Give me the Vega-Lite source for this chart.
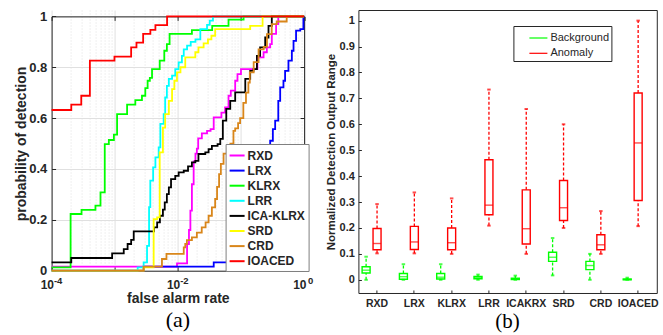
{
  "$schema": "https://vega.github.io/schema/vega-lite/v6.json",
  "background": "white",
  "padding": {"left": 14.6, "top": 9, "right": 0, "bottom": 0},
  "spacing": 10.8,
  "config": {"font": "Liberation Sans", "view": {"stroke": null}},
  "resolve": {"scale": {"color": "independent", "x": "independent", "y": "independent"}, "legend": {"color": "independent"}},
  "datasets": {
    "roc": [
      {"m":"RXD","far":0.0001,"pd":0.016},{"m":"RXD","far":0.0097,"pd":0.029},{"m":"RXD","far":0.014,"pd":0.105},{"m":"RXD","far":0.015,"pd":0.16},{"m":"RXD","far":0.0158,"pd":0.236},{"m":"RXD","far":0.0167,"pd":0.34},{"m":"RXD","far":0.0178,"pd":0.43},{"m":"RXD","far":0.019,"pd":0.46},{"m":"RXD","far":0.02,"pd":0.48},{"m":"RXD","far":0.021,"pd":0.52},{"m":"RXD","far":0.024,"pd":0.54},{"m":"RXD","far":0.029,"pd":0.55},{"m":"RXD","far":0.033,"pd":0.557},{"m":"RXD","far":0.037,"pd":0.603},{"m":"RXD","far":0.049,"pd":0.622},{"m":"RXD","far":0.056,"pd":0.642},{"m":"RXD","far":0.0635,"pd":0.688},{"m":"RXD","far":0.069,"pd":0.708},{"m":"RXD","far":0.081,"pd":0.747},{"m":"RXD","far":0.088,"pd":0.773},{"m":"RXD","far":0.1,"pd":0.793},{"m":"RXD","far":0.182,"pd":0.839},{"m":"RXD","far":0.228,"pd":0.859},{"m":"RXD","far":0.257,"pd":0.878},{"m":"RXD","far":0.29,"pd":0.891},{"m":"RXD","far":0.308,"pd":0.931},{"m":"RXD","far":0.36,"pd":0.97},{"m":"RXD","far":0.39,"pd":1.0},{"m":"RXD","far":1,"pd":1.0},
      {"m":"LRX","far":0.0001,"pd":0},{"m":"LRX","far":0.00287,"pd":0.016},{"m":"LRX","far":0.037,"pd":0.033},{"m":"LRX","far":0.1,"pd":0.05},{"m":"LRX","far":0.15,"pd":0.1},{"m":"LRX","far":0.2,"pd":0.2},{"m":"LRX","far":0.25,"pd":0.35},{"m":"LRX","far":0.29,"pd":0.511},{"m":"LRX","far":0.32,"pd":0.557},{"m":"LRX","far":0.348,"pd":0.59},{"m":"LRX","far":0.39,"pd":0.668},{"m":"LRX","far":0.418,"pd":0.721},{"m":"LRX","far":0.471,"pd":0.747},{"m":"LRX","far":0.5,"pd":0.786},{"m":"LRX","far":0.565,"pd":0.826},{"m":"LRX","far":0.64,"pd":0.865},{"m":"LRX","far":0.68,"pd":0.904},{"m":"LRX","far":0.746,"pd":0.944},{"m":"LRX","far":0.87,"pd":0.95},{"m":"LRX","far":0.975,"pd":1.0},{"m":"LRX","far":1,"pd":1.0},
      {"m":"KLRX","far":0.0001,"pd":0.013},{"m":"KLRX","far":0.0002,"pd":0.223},{"m":"KLRX","far":0.000298,"pd":0.239},{"m":"KLRX","far":0.000495,"pd":0.256},{"m":"KLRX","far":0.000595,"pd":0.308},{"m":"KLRX","far":0.000695,"pd":0.498},{"m":"KLRX","far":0.000807,"pd":0.514},{"m":"KLRX","far":0.00097,"pd":0.535},{"m":"KLRX","far":0.00109,"pd":0.616},{"m":"KLRX","far":0.00157,"pd":0.653},{"m":"KLRX","far":0.00212,"pd":0.671},{"m":"KLRX","far":0.0027,"pd":0.688},{"m":"KLRX","far":0.00305,"pd":0.718},{"m":"KLRX","far":0.00332,"pd":0.747},{"m":"KLRX","far":0.0036,"pd":0.758},{"m":"KLRX","far":0.0039,"pd":0.793},{"m":"KLRX","far":0.00516,"pd":0.826},{"m":"KLRX","far":0.0061,"pd":0.865},{"m":"KLRX","far":0.0067,"pd":0.891},{"m":"KLRX","far":0.0074,"pd":0.931},{"m":"KLRX","far":0.0167,"pd":0.946},{"m":"KLRX","far":0.035,"pd":0.963},{"m":"KLRX","far":0.0635,"pd":0.987},{"m":"KLRX","far":0.11,"pd":1.0},{"m":"KLRX","far":1,"pd":1.0},
      {"m":"LRR","far":0.0001,"pd":0},{"m":"LRR","far":0.00231,"pd":0.013},{"m":"LRR","far":0.00287,"pd":0.033},{"m":"LRR","far":0.00325,"pd":0.098},{"m":"LRR","far":0.0035,"pd":0.25},{"m":"LRR","far":0.00366,"pd":0.354},{"m":"LRR","far":0.00406,"pd":0.406},{"m":"LRR","far":0.00441,"pd":0.446},{"m":"LRR","far":0.00497,"pd":0.485},{"m":"LRR","far":0.00528,"pd":0.577},{"m":"LRR","far":0.00596,"pd":0.616},{"m":"LRR","far":0.0063,"pd":0.681},{"m":"LRR","far":0.0067,"pd":0.727},{"m":"LRR","far":0.0072,"pd":0.754},{"m":"LRR","far":0.0081,"pd":0.767},{"m":"LRR","far":0.0091,"pd":0.793},{"m":"LRR","far":0.0103,"pd":0.819},{"m":"LRR","far":0.0116,"pd":0.845},{"m":"LRR","far":0.0124,"pd":0.87},{"m":"LRR","far":0.014,"pd":0.885},{"m":"LRR","far":0.016,"pd":0.9},{"m":"LRR","far":0.019,"pd":0.91},{"m":"LRR","far":0.0227,"pd":0.95},{"m":"LRR","far":0.029,"pd":0.967},{"m":"LRR","far":0.032,"pd":0.983},{"m":"LRR","far":0.036,"pd":1.0},{"m":"LRR","far":1,"pd":1.0},
      {"m":"ICA-KLRX","far":0.0001,"pd":0.033},{"m":"ICA-KLRX","far":0.000205,"pd":0.05},{"m":"ICA-KLRX","far":0.00091,"pd":0.068},{"m":"ICA-KLRX","far":0.00139,"pd":0.085},{"m":"ICA-KLRX","far":0.0016,"pd":0.105},{"m":"ICA-KLRX","far":0.00182,"pd":0.121},{"m":"ICA-KLRX","far":0.002,"pd":0.155},{"m":"ICA-KLRX","far":0.0042,"pd":0.17},{"m":"ICA-KLRX","far":0.0047,"pd":0.19},{"m":"ICA-KLRX","far":0.0052,"pd":0.216},{"m":"ICA-KLRX","far":0.0058,"pd":0.24},{"m":"ICA-KLRX","far":0.0062,"pd":0.269},{"m":"ICA-KLRX","far":0.0067,"pd":0.301},{"m":"ICA-KLRX","far":0.0072,"pd":0.328},{"m":"ICA-KLRX","far":0.0078,"pd":0.36},{"m":"ICA-KLRX","far":0.0091,"pd":0.373},{"m":"ICA-KLRX","far":0.0103,"pd":0.387},{"m":"ICA-KLRX","far":0.0124,"pd":0.393},{"m":"ICA-KLRX","far":0.0145,"pd":0.41},{"m":"ICA-KLRX","far":0.0167,"pd":0.426},{"m":"ICA-KLRX","far":0.0189,"pd":0.432},{"m":"ICA-KLRX","far":0.0212,"pd":0.459},{"m":"ICA-KLRX","far":0.0272,"pd":0.465},{"m":"ICA-KLRX","far":0.0307,"pd":0.478},{"m":"ICA-KLRX","far":0.0346,"pd":0.491},{"m":"ICA-KLRX","far":0.0426,"pd":0.498},{"m":"ICA-KLRX","far":0.047,"pd":0.518},{"m":"ICA-KLRX","far":0.0516,"pd":0.59},{"m":"ICA-KLRX","far":0.0585,"pd":0.636},{"m":"ICA-KLRX","far":0.0676,"pd":0.668},{"m":"ICA-KLRX","far":0.081,"pd":0.701},{"m":"ICA-KLRX","far":0.117,"pd":0.754},{"m":"ICA-KLRX","far":0.14,"pd":0.786},{"m":"ICA-KLRX","far":0.158,"pd":0.793},{"m":"ICA-KLRX","far":0.179,"pd":0.845},{"m":"ICA-KLRX","far":0.201,"pd":0.878},{"m":"ICA-KLRX","far":0.242,"pd":0.917},{"m":"ICA-KLRX","far":0.273,"pd":0.963},{"m":"ICA-KLRX","far":0.308,"pd":1.0},{"m":"ICA-KLRX","far":1,"pd":1.0},
      {"m":"SRD","far":0.0001,"pd":0},{"m":"SRD","far":0.00287,"pd":0.013},{"m":"SRD","far":0.00414,"pd":0.203},{"m":"SRD","far":0.0047,"pd":0.21},{"m":"SRD","far":0.00516,"pd":0.465},{"m":"SRD","far":0.0058,"pd":0.563},{"m":"SRD","far":0.0063,"pd":0.616},{"m":"SRD","far":0.0072,"pd":0.668},{"m":"SRD","far":0.0081,"pd":0.714},{"m":"SRD","far":0.0088,"pd":0.747},{"m":"SRD","far":0.0097,"pd":0.78},{"m":"SRD","far":0.011,"pd":0.8},{"m":"SRD","far":0.0131,"pd":0.839},{"m":"SRD","far":0.0189,"pd":0.859},{"m":"SRD","far":0.0212,"pd":0.878},{"m":"SRD","far":0.0256,"pd":0.894},{"m":"SRD","far":0.03,"pd":0.91},{"m":"SRD","far":0.034,"pd":0.924},{"m":"SRD","far":0.039,"pd":0.95},{"m":"SRD","far":0.14,"pd":0.963},{"m":"SRD","far":0.22,"pd":1.0},{"m":"SRD","far":1,"pd":1.0},
      {"m":"CRD","far":0.0001,"pd":0},{"m":"CRD","far":0.00287,"pd":0.016},{"m":"CRD","far":0.0056,"pd":0.046},{"m":"CRD","far":0.0066,"pd":0.066},{"m":"CRD","far":0.0124,"pd":0.092},{"m":"CRD","far":0.0131,"pd":0.105},{"m":"CRD","far":0.0139,"pd":0.12},{"m":"CRD","far":0.0167,"pd":0.131},{"m":"CRD","far":0.02,"pd":0.15},{"m":"CRD","far":0.0239,"pd":0.17},{"m":"CRD","far":0.0275,"pd":0.19},{"m":"CRD","far":0.0307,"pd":0.216},{"m":"CRD","far":0.0346,"pd":0.249},{"m":"CRD","far":0.039,"pd":0.282},{"m":"CRD","far":0.0418,"pd":0.33},{"m":"CRD","far":0.045,"pd":0.38},{"m":"CRD","far":0.048,"pd":0.42},{"m":"CRD","far":0.053,"pd":0.46},{"m":"CRD","far":0.06,"pd":0.48},{"m":"CRD","far":0.068,"pd":0.5},{"m":"CRD","far":0.076,"pd":0.55},{"m":"CRD","far":0.081,"pd":0.56},{"m":"CRD","far":0.09,"pd":0.58},{"m":"CRD","far":0.097,"pd":0.6},{"m":"CRD","far":0.109,"pd":0.66},{"m":"CRD","far":0.12,"pd":0.7},{"m":"CRD","far":0.131,"pd":0.74},{"m":"CRD","far":0.138,"pd":0.78},{"m":"CRD","far":0.159,"pd":0.82},{"m":"CRD","far":0.19,"pd":0.87},{"m":"CRD","far":0.229,"pd":0.88},{"m":"CRD","far":0.258,"pd":0.93},{"m":"CRD","far":0.307,"pd":0.97},{"m":"CRD","far":0.368,"pd":0.98},{"m":"CRD","far":0.53,"pd":1.0},{"m":"CRD","far":1,"pd":1.0},
      {"m":"IOACED","far":0.0001,"pd":0.632},{"m":"IOACED","far":0.000205,"pd":0.653},{"m":"IOACED","far":0.000295,"pd":0.688},{"m":"IOACED","far":0.000404,"pd":0.826},{"m":"IOACED","far":0.00099,"pd":0.842},{"m":"IOACED","far":0.00182,"pd":0.878},{"m":"IOACED","far":0.00221,"pd":0.897},{"m":"IOACED","far":0.00282,"pd":0.931},{"m":"IOACED","far":0.00367,"pd":0.947},{"m":"IOACED","far":0.00441,"pd":0.966},{"m":"IOACED","far":0.00675,"pd":1.0},{"m":"IOACED","far":1,"pd":1.0}
    ],
    "box": [
      {"method":"RXD","group":"Background","lo":0,"q1":0.026,"med":0.037,"q3":0.05,"hi":0.089},
      {"method":"RXD","group":"Anomaly","lo":0.102,"q1":0.116,"med":0.14,"q3":0.198,"hi":0.292},
      {"method":"LRX","group":"Background","lo":0,"q1":0.002,"med":0.012,"q3":0.024,"hi":0.06},
      {"method":"LRX","group":"Anomaly","lo":0.102,"q1":0.117,"med":0.146,"q3":0.206,"hi":0.337},
      {"method":"KLRX","group":"Background","lo":0,"q1":0.003,"med":0.01,"q3":0.024,"hi":0.06},
      {"method":"KLRX","group":"Anomaly","lo":0.1,"q1":0.116,"med":0.143,"q3":0.2,"hi":0.314},
      {"method":"LRR","group":"Background","lo":0,"q1":0.004,"med":0.008,"q3":0.013,"hi":0.02},
      {"method":"LRR","group":"Anomaly","lo":0.209,"q1":0.251,"med":0.288,"q3":0.463,"hi":0.734},
      {"method":"ICAKRX","group":"Background","lo":0,"q1":0.001,"med":0.003,"q3":0.006,"hi":0.016},
      {"method":"ICAKRX","group":"Anomaly","lo":0.1,"q1":0.138,"med":0.197,"q3":0.347,"hi":0.659},
      {"method":"SRD","group":"Background","lo":0.017,"q1":0.071,"med":0.087,"q3":0.106,"hi":0.161},
      {"method":"SRD","group":"Anomaly","lo":0.2,"q1":0.229,"med":0.278,"q3":0.383,"hi":0.6},
      {"method":"CRD","group":"Background","lo":0,"q1":0.039,"med":0.055,"q3":0.071,"hi":0.1},
      {"method":"CRD","group":"Anomaly","lo":0.1,"q1":0.116,"med":0.135,"q3":0.174,"hi":0.265},
      {"method":"IOACED","group":"Background","lo":0,"q1":0,"med":0.001,"q3":0.003,"hi":0.008},
      {"method":"IOACED","group":"Anomaly","lo":0.207,"q1":0.306,"med":0.528,"q3":0.721,"hi":1.0}
    ]
  },
  "hconcat": [
    {
      "width": 252.5,
      "height": 260.7,
      "title": {"text": "(a)", "orient": "bottom", "font": "Liberation Serif", "fontSize": 22, "fontWeight": "normal", "color": "black", "offset": 4},
      "data": {"name": "roc"},
      "resolve": {"axis": {"x": "independent", "y": "independent"}},
      "layer": [
        {
          "mark": {"type": "line", "opacity": 0},
          "encoding": {
            "x": {"field": "far", "type": "quantitative", "scale": {"type": "log", "domain": [0.0001, 1], "nice": false},
              "axis": {"orient": "bottom", "values": [0.0002,0.0003,0.0004,0.0005,0.0006,0.0007,0.0008,0.0009,0.002,0.003,0.004,0.005,0.006,0.007,0.008,0.009,0.02,0.03,0.04,0.05,0.06,0.07,0.08,0.09,0.2,0.3,0.4,0.5,0.6,0.7,0.8,0.9], "grid": true, "gridColor": "#d4d4d4", "gridDash": [1, 2], "gridWidth": 0.7, "labels": false, "domain": false, "ticks": false, "tickSize": 0, "title": null}},
            "y": {"field": "pd", "type": "quantitative", "scale": {"domain": [0, 1], "range": [260.7, 6.4], "nice": false, "zero": false}, "axis": null},
            "detail": {"field": "m"}
          }
        },
        {
          "mark": {"type": "line", "interpolate": "step-after", "strokeWidth": 1.8},
          "encoding": {
            "x": {"field": "far", "type": "quantitative", "scale": {"type": "log", "domain": [0.0001, 1], "nice": false},
              "axis": {"orient": "bottom", "values": [0.0001, 0.001, 0.01, 0.1, 1], "labelExpr": "datum.value === 0.0001 || datum.value === 0.01 || datum.value === 1 ? '10' : ''", "labelFlush": false, "labelOverlap": false, "labelFontSize": 12, "labelFontWeight": "bold", "labelColor": "#262626", "labelPadding": 12.5, "labelOffset": -4.8, "grid": true, "gridColor": "#e0e0e0", "gridWidth": 1, "domainColor": "#262626", "domainWidth": 1, "tickColor": "#262626", "tickSize": -4, "title": "false alarm rate", "titleFontSize": 14, "titleFontWeight": "bold", "titleColor": "#262626", "titlePadding": 1.5}},
            "y": {"field": "pd", "type": "quantitative", "scale": {"domain": [0, 1], "range": [260.7, 6.4], "nice": false, "zero": false},
              "axis": {"orient": "left", "values": [0, 0.2, 0.4, 0.6, 0.8, 1], "format": "~g", "labelFlush": false, "labelOverlap": false, "labelFontSize": 13, "labelFontWeight": "bold", "labelColor": "#262626", "labelPadding": 8.8, "grid": true, "gridColor": "#e0e0e0", "gridWidth": 1, "domainColor": "#262626", "domainWidth": 1, "tickColor": "#262626", "tickSize": -4, "title": "probability of detection", "titleFontSize": 14, "titleFontWeight": "bold", "titleColor": "#262626", "titlePadding": 0}},
            "color": {"field": "m", "type": "nominal",
              "scale": {"domain": ["RXD", "LRX", "KLRX", "LRR", "ICA-KLRX", "SRD", "CRD", "IOACED"], "range": ["#ff00ff", "#0000ff", "#00ff00", "#00ffff", "#000000", "#ffff00", "#d9861a", "#ff0000"]},
              "legend": {"title": null, "orient": "none", "legendX": 174, "legendY": 134, "symbolType": "stroke", "symbolSize": 225, "symbolStrokeWidth": 2, "labelFontSize": 12, "labelFontWeight": "bold", "labelColor": "#262626", "padding": 3, "rowPadding": 0.1, "labelOffset": 2, "strokeColor": "#7f7f7f", "fillColor": "white"}}
          }
        },
        {
          "mark": {"type": "line", "opacity": 0},
          "encoding": {
            "x": {"field": "far", "type": "quantitative", "scale": {"type": "log", "domain": [0.0001, 1], "nice": false},
              "axis": {"orient": "top", "offset": -6.4, "values": [0.0001, 0.001, 0.01, 0.1, 1], "labels": false, "grid": false, "domainColor": "#262626", "domainWidth": 1, "tickColor": "#262626", "tickSize": -4, "title": null}},
            "y": {"field": "pd", "type": "quantitative", "scale": {"domain": [0, 1], "range": [260.7, 6.4], "nice": false, "zero": false},
              "axis": {"orient": "right", "values": [0, 0.2, 0.4, 0.6, 0.8, 1], "labels": false, "grid": false, "domainColor": "#262626", "domainWidth": 1, "tickColor": "#262626", "tickSize": -4, "title": null}},
            "detail": {"field": "m"}
          }
        },
        {
          "mark": {"type": "line", "opacity": 0},
          "encoding": {
            "x": {"field": "far", "type": "quantitative", "scale": {"type": "log", "domain": [0.0001, 1], "nice": false},
              "axis": {"orient": "bottom", "values": [0.0001, 0.01, 1], "labelExpr": "datum.value === 0.0001 ? '-4' : datum.value === 0.01 ? '-2' : '0'", "labelFlush": false, "labelOverlap": false, "labelFontSize": 9.5, "labelFontWeight": "bold", "labelColor": "#262626", "labelPadding": 5, "labelOffset": 6, "grid": false, "domain": false, "ticks": false, "tickSize": 0, "title": null}},
            "y": {"field": "pd", "type": "quantitative", "scale": {"domain": [0, 1], "range": [260.7, 6.4], "nice": false, "zero": false}, "axis": null},
            "detail": {"field": "m"}
          }
        }
      ]
    },
    {
      "width": 298.4,
      "height": 283,
      "view": {"stroke": "#262626", "strokeWidth": 1},
      "title": {"text": "(b)", "orient": "bottom", "font": "Liberation Serif", "fontSize": 21, "fontWeight": "normal", "color": "black", "offset": 2},
      "data": {"name": "box"},
      "resolve": {"axis": {"y": "independent"}},
      "encoding": {
        "x": {"field": "method", "type": "nominal", "sort": null, "scale": {"paddingInner": 0.12, "paddingOuter": 0.06},
          "axis": {"title": null, "labelAngle": 0, "labelFontSize": 10.5, "labelFontWeight": "bold", "labelColor": "#262626", "domain": false, "ticks": true, "tickSize": -3, "tickColor": "#262626", "labelPadding": 8.8}},
        "xOffset": {"field": "group", "type": "nominal", "scale": {"domain": ["Background", "Anomaly", "_"], "paddingInner": 0, "paddingOuter": 0}},
        "color": {"field": "group", "type": "nominal", "scale": {"domain": ["Background", "Anomaly"], "range": ["#00ff00", "#ff0000"]},
          "legend": {"title": null, "orient": "none", "legendX": 155, "legendY": 16, "symbolType": "stroke", "symbolSize": 324, "symbolStrokeWidth": 1.2, "labelFontSize": 11, "labelFontWeight": "normal", "labelColor": "#262626", "padding": 2, "rowPadding": 0.3, "symbolOffset": 13, "labelOffset": 2, "strokeColor": "#262626", "fillColor": "white"}}
      },
      "layer": [
        {
          "mark": {"type": "rule", "strokeDash": [3, 2], "strokeWidth": 1.3},
          "encoding": {
            "y": {"field": "lo", "type": "quantitative", "scale": {"domain": [-0.051, 1.041], "nice": false, "zero": false},
              "axis": {"values": [0, 0.1, 0.2, 0.3, 0.4, 0.5, 0.6, 0.7, 0.8, 0.9, 1], "format": "~g", "title": "Normalized Detection Output Range", "titleFontSize": 11.5, "titleFontWeight": "bold", "titleColor": "#262626", "titlePadding": 3, "labelFontSize": 11, "labelFontWeight": "bold", "labelColor": "#262626", "labelPadding": 7, "labelFlush": false, "labelOverlap": false, "grid": false, "domain": false, "tickSize": -3, "tickColor": "#262626"}},
            "y2": {"field": "q1"}
          }
        },
        {
          "mark": {"type": "rule", "strokeDash": [3, 2], "strokeWidth": 1.3},
          "encoding": {
            "y": {"field": "q3", "type": "quantitative", "scale": {"domain": [-0.051, 1.041], "nice": false, "zero": false}, "axis": null},
            "y2": {"field": "hi"}
          }
        },
        {
          "mark": {"type": "bar", "filled": false, "strokeWidth": 1.4, "size": 8},
          "encoding": {
            "y": {"field": "q1", "type": "quantitative", "scale": {"domain": [-0.051, 1.041], "nice": false, "zero": false}, "axis": null},
            "y2": {"field": "q3"}
          }
        },
        {
          "mark": {"type": "tick", "thickness": 1.4, "size": 8},
          "encoding": {
            "y": {"field": "med", "type": "quantitative", "scale": {"domain": [-0.051, 1.041], "nice": false, "zero": false}, "axis": null}
          }
        },
        {
          "mark": {"type": "tick", "thickness": 2, "size": 3.5},
          "encoding": {
            "y": {"field": "lo", "type": "quantitative", "scale": {"domain": [-0.051, 1.041], "nice": false, "zero": false}, "axis": null}
          }
        },
        {
          "mark": {"type": "tick", "thickness": 2, "size": 3.5},
          "encoding": {
            "y": {"field": "hi", "type": "quantitative", "scale": {"domain": [-0.051, 1.041], "nice": false, "zero": false}, "axis": null}
          }
        }
      ]
    }
  ]
}
